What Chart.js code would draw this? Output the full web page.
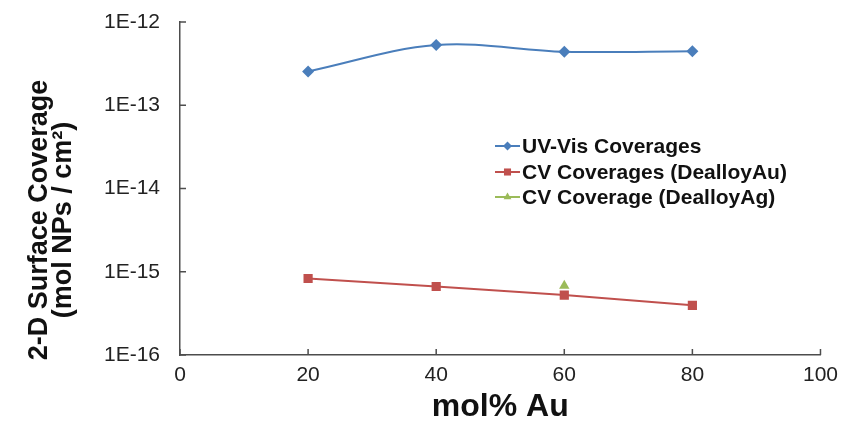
<!DOCTYPE html>
<html>
<head>
<meta charset="utf-8">
<script src="https://cdn.jsdelivr.net/npm/chart.js@4/dist/chart.umd.min.js"></script>
<style>
  html, body { margin: 0; padding: 0; background: #fff; }
  #wrap { width: 846px; height: 438px; }
</style>
</head>
<body>
<div id="wrap"><canvas id="chart" width="846" height="438"></canvas></div>
<script>
// data
const molPctAu = [20, 40, 60, 80];
const uvVisCoverage = [2.55e-13, 5.3e-13, 4.4e-13, 4.45e-13];
const cvCoverageAu = [8.3e-16, 6.65e-16, 5.25e-16, 3.95e-16];
const cvCoverageAg = [null, null, 6.8e-16, null];
const yTickExponents = [-16, -15, -14, -13, -12];
const seriesNames = ['UV-Vis Coverages', 'CV Coverages (DealloyAu)', 'CV Coverage (DealloyAg)'];

const FONT = "'Liberation Sans', Arial, sans-serif";
const AXIS_COLOR = '#4d4d4d';

function toPoints(ys) {
    return molPctAu.map((x, i) => ({ x: x, y: ys[i] }));
}

// inward tick marks like the original (excel style)
const innerTicks = {
    id: 'innerTicks',
    afterDraw(chart) {
        const ctx = chart.ctx;
        const xs = chart.scales.x, ys = chart.scales.y;
        const area = chart.chartArea;
        ctx.save();
        ctx.strokeStyle = AXIS_COLOR;
        ctx.lineWidth = 1.5;
        ctx.beginPath();
        xs.ticks.forEach(t => {
            const px = xs.getPixelForValue(t.value);
            ctx.moveTo(px, area.bottom);
            ctx.lineTo(px, area.bottom - 6);
        });
        ys.ticks.forEach(t => {
            const py = ys.getPixelForValue(t.value);
            ctx.moveTo(area.left, py);
            ctx.lineTo(area.left + 6, py);
        });
        ctx.stroke();
        ctx.restore();
    }
};

// y title, centred on the whole figure height
const yTitle = {
    id: 'yTitle',
    afterDraw(chart) {
        const ctx = chart.ctx;
        ctx.save();
        ctx.translate(40, 220);
        ctx.rotate(-Math.PI / 2);
        ctx.fillStyle = '#111';
        ctx.font = 'bold 27px ' + FONT;
        ctx.textAlign = 'center';
        ctx.textBaseline = 'middle';
        ctx.fillText('2-D Surface Coverage', 0, 0);
        ctx.fillText('(mol NPs / cm²)', 0, 24);
        ctx.restore();
    }
};

// legend floating inside the plot
const floatLegend = {
    id: 'floatLegend',
    afterDraw(chart) {
        const ctx = chart.ctx;
        const x0 = 495, lineLen = 25, rowY = [146, 172, 197];
        ctx.save();
        ctx.font = 'bold 21px ' + FONT;
        ctx.textBaseline = 'middle';
        chart.data.datasets.forEach((ds, i) => {
            const y = rowY[i];
            ctx.strokeStyle = ds.borderColor;
            ctx.lineWidth = 2;
            ctx.beginPath();
            ctx.moveTo(x0, y);
            ctx.lineTo(x0 + lineLen, y);
            ctx.stroke();
            ctx.fillStyle = ds.backgroundColor;
            Chart.helpers.drawPoint(ctx, {
                pointStyle: ds.pointStyle, radius: ds.pointRadius - 1.5, borderWidth: 0
            }, x0 + lineLen / 2, y);
            ctx.fillStyle = '#111';
            ctx.fillText(ds.label, x0 + lineLen + 2, y + 1);
        });
        ctx.restore();
    }
};

new Chart(document.getElementById('chart').getContext('2d'), {
    type: 'line',
    data: {
        datasets: [{
            label: seriesNames[0],
            data: toPoints(uvVisCoverage),
            borderColor: '#4a7ebb',
            backgroundColor: '#4a7ebb',
            borderWidth: 2,
            tension: 0.35,
            pointStyle: 'rectRot',
            pointRadius: 6,
            pointBorderWidth: 0
        }, {
            label: seriesNames[1],
            data: toPoints(cvCoverageAu),
            borderColor: '#c0504d',
            backgroundColor: '#c0504d',
            borderWidth: 2,
            tension: 0,
            pointStyle: 'rect',
            pointRadius: 6.5,
            pointBorderWidth: 0
        }, {
            label: seriesNames[2],
            data: toPoints(cvCoverageAg),
            borderColor: '#9bbb59',
            backgroundColor: '#9bbb59',
            borderWidth: 2,
            pointStyle: 'triangle',
            pointRadius: 6,
            pointBorderWidth: 0,
            spanGaps: false
        }]
    },
    options: {
        responsive: false,
        animation: false,
        devicePixelRatio: 1,
        layout: { padding: { top: 22, right: 23, left: 0, bottom: 0 } },
        plugins: {
            legend: { display: false },
            tooltip: { enabled: false }
        },
        scales: {
            x: {
                type: 'linear',
                min: 0,
                max: 100,
                ticks: {
                    stepSize: 20,
                    color: '#222',
                    font: { family: FONT, size: 21 },
                    padding: 8
                },
                grid: { display: false, drawTicks: false },
                border: { display: true, color: AXIS_COLOR, width: 1.5 },
                title: {
                    display: true,
                    text: 'mol% Au',
                    color: '#111',
                    font: { family: FONT, size: 32, weight: 'bold' },
                    padding: { top: 0, bottom: 12 }
                },
                afterFit(scale) { scale.height = 83; }
            },
            y: {
                type: 'logarithmic',
                min: 1e-16,
                max: 1e-12,
                afterBuildTicks(scale) {
                    scale.ticks = yTickExponents.map(e => ({ value: Number('1e' + e) }));
                },
                ticks: {
                    color: '#222',
                    font: { family: FONT, size: 21 },
                    padding: 20,
                    callback: v => '1E' + Math.round(Math.log10(v))
                },
                grid: { display: false, drawTicks: false },
                border: { display: true, color: AXIS_COLOR, width: 1.5 },
                afterFit(scale) {
                    scale.width = 180;
                    scale.paddingTop = 0;
                    scale.paddingBottom = 0;
                }
            }
        }
    },
    plugins: [innerTicks, yTitle, floatLegend]
});
</script>
</body>
</html>
